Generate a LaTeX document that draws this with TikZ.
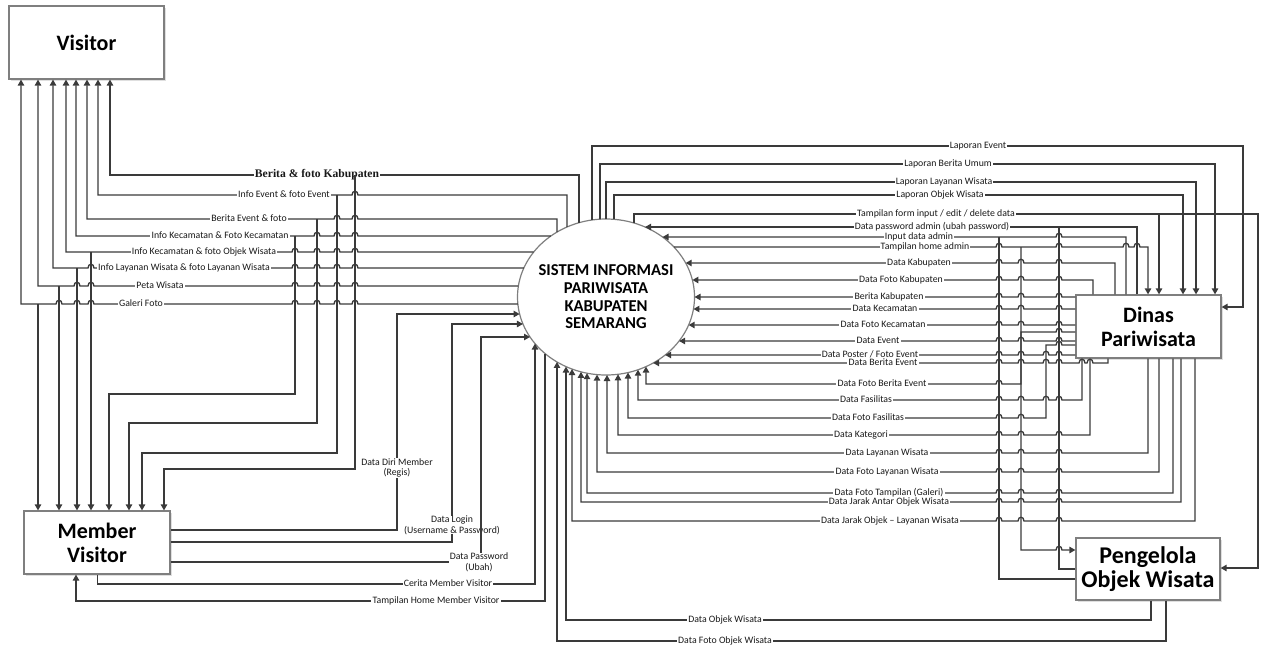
\documentclass[tikz,border=0pt]{standalone}
\usepackage{fontspec}
\setmainfont{Carlito}
\newfontfamily\judulfont{Liberation Serif}
\usepackage{tikz}
\usetikzlibrary{arrows.meta,shapes.geometric,shadows}
\definecolor{garis}{HTML}{3A3A3A}
\definecolor{tepi}{HTML}{7F7F7F}

\tikzset{
  garisalir/.style={draw=garis,line width=0.65pt},
  alir/.style={garisalir,-{Triangle[length=3pt,width=3.2pt]}},
  ket/.style={fill=white,inner xsep=0.6pt,inner ysep=0pt,text height=3.3pt,text depth=0.8pt,
    text=black!90,font=\fontsize{4.9}{5.4}\selectfont},
  ket2/.style={ket,align=center,text height=,text depth=},
  ketb/.style={ket,font={\judulfont\fontsize{5.8}{6}\selectfont\bfseries}},
  entitas/.style={draw=tepi,line width=0.6pt,fill=white,align=center,inner sep=0pt,
    font=\fontsize{11}{12}\selectfont\bfseries,
    drop shadow={shadow xshift=0.8pt,shadow yshift=-0.8pt,opacity=0.25}},
}
% lompatan kecil di atas garis vertikal
\newcommand\lompatkiri[2]{\foreach \jx in {#2}{ -- (\jx+3,#1) .. controls +(0,-5) and +(0,-5) .. (\jx-3,#1)}}
\newcommand\lompatkanan[2]{\foreach \jx in {#2}{ -- (\jx-3,#1) .. controls +(0,-5) and +(0,-5) .. (\jx+3,#1)}}

\begin{document}
\begin{tikzpicture}[x=0.5pt,y=-0.5pt,
  declare function={
    xl(\q)=606-88.5*sqrt(max(0,1-((\q-297)/78)*((\q-297)/78)));
    xr(\q)=606+88.5*sqrt(max(0,1-((\q-297)/78)*((\q-297)/78)));
    yt(\q)=297-78*sqrt(max(0,1-((\q-606)/88.5)*((\q-606)/88.5)));
    yb(\q)=297+78*sqrt(max(0,1-((\q-606)/88.5)*((\q-606)/88.5)));
  }]
  \useasboundingbox (0,0) rectangle (1262,649);

  % Entitas dan proses
  \node[entitas,minimum width=77.5pt,minimum height=36.5pt] (vis) at (86.5,42.5) {Visitor};
  \node[entitas,minimum width=73pt,minimum height=31.5pt] (mem) at (97,542.5) {Member\\Visitor};
  \node[entitas,minimum width=72.5pt,minimum height=31.5pt] (dinas) at (1148.5,326.5) {Dinas\\Pariwisata};
  \node[entitas,minimum width=72pt,minimum height=31pt,font=\fontsize{12}{12}\selectfont\bfseries]
    (pengelola) at (1148,569) {Pengelola\\Objek Wisata};
  \node[draw=tepi,line width=0.6pt,ellipse,fill=white,minimum width=88.5pt,minimum height=78pt,inner sep=0pt]
    (sys) at (606,297) {};
  \node[align=center,font=\fontsize{8.3}{8.8}\selectfont\bfseries] (systeks) at (sys.center)
    {SISTEM INFORMASI\\PARIWISATA\\KABUPATEN\\SEMARANG};

  % Ke Visitor dan Member Visitor
  \draw[alir] (579,{yt(579)}) -- (579,175) -- (317,175) node[ketb]{Berita \& foto Kabupaten} -- (110,175) -- (vis.south -| 110,0);
  \draw[alir] (355,175) -- (355,469) -- (164,469) -- (mem.north -| 164,0);
  \draw[alir] (567,{yt(567)}) -- (567,195) \lompatkiri{195}{355} -- (284,195) node[ket]{Info Event \& foto Event} -- (98,195) -- (vis.south -| 98,0);
  \draw[alir] (337,195) -- (337,453) -- (142,453) -- (mem.north -| 142,0);
  \draw[alir] (557,{yt(557)}) -- (557,219) \lompatkiri{219}{355,337} -- (249,219) node[ket]{Berita Event \& foto} -- (87,219) -- (vis.south -| 87,0);
  \draw[alir] (317,219) -- (317,423) -- (129,423) -- (mem.north -| 129,0);
  \draw[alir] ({xl(236)},236) \lompatkiri{236}{355,337,317} -- (220,236) node[ket]{Info Kecamatan \& Foto Kecamatan} -- (76,236) -- (vis.south -| 76,0);
  \draw[alir] (295,236) -- (295,394) -- (109,394) -- (mem.north -| 109,0);
  \draw[alir] ({xl(252)},252) \lompatkiri{252}{355,337,317,295} -- (204,252) node[ket]{Info Kecamatan \& foto Objek Wisata} -- (66,252) -- (vis.south -| 66,0);
  \draw[alir] (91,252) -- (mem.north -| 91,0);
  \draw[alir] ({xl(268)},268) \lompatkiri{268}{355,337,317,295} -- (184,268) node[ket]{Info Layanan Wisata \& foto Layanan Wisata} \lompatkiri{268}{91} -- (53,268) -- (vis.south -| 53,0);
  \draw[alir] (77,268) -- (mem.north -| 77,0);
  \draw[alir] ({xl(286)},286) \lompatkiri{286}{355,337,317,295} -- (160,286) node[ket]{Peta Wisata} \lompatkiri{286}{91,77} -- (38,286) -- (vis.south -| 38,0);
  \draw[alir] (59,286) -- (mem.north -| 59,0);
  \draw[alir] ({xl(304)},304) \lompatkiri{304}{355,337,317,295} -- (141,304) node[ket]{Galeri Foto} \lompatkiri{304}{91,77,59} -- (21,304) -- (vis.south -| 21,0);
  \draw[alir] (38,304) -- (mem.north -| 38,0);

  % Dari Member Visitor
  \draw[alir] (mem.east |- 0,530) -- (397,530) -- (397,468) node[ket2]{Data Diri Member\\(Regis)} -- (397,314) -- ({xl(314)},314);
  \draw[alir] (mem.east |- 0,542) -- (452,542) -- (452,525) node[ket2]{Data Login\\(Username \& Password)} -- (452,324) -- ({xl(324)},324);
  \draw[alir] (mem.east |- 0,562) -- (479,562) node[ket2]{Data Password\\(Ubah)} -- (481,562) -- (481,337) -- ({xl(337)},337);
  \draw[alir] (mem.south -| 97.5,0) -- (97.5,584) -- (448,584) node[ket]{Cerita Member Visitor} -- (535,584) -- (535,{yb(535)});
  \draw[alir] (545,{yb(545)}) -- (545,601) -- (436,601) node[ket]{Tampilan Home Member Visitor} -- (76,601) -- (mem.south -| 76,0);

  % Laporan ke Dinas Pariwisata
  \draw[alir] (592,{yt(592)}) -- (592,146) -- (978,146) node[ket]{Laporan Event} -- (1243,146) -- (1243,307) -- (dinas.east |- 0,307);
  \draw[alir] (600,{yt(600)}) -- (600,164) -- (948,164) node[ket]{Laporan Berita Umum} -- (1215,164) -- (dinas.north -| 1215,0);
  \draw[alir] (606,{yt(606)}) -- (606,182) -- (944,182) node[ket]{Laporan Layanan Wisata} -- (1196,182) -- (dinas.north -| 1196,0);
  \draw[alir] (614,{yt(614)}) -- (614,195) -- (940,195) node[ket]{Laporan Objek Wisata} -- (1183,195) -- (dinas.north -| 1183,0);
  \draw[alir] (634,{yt(634)}) -- (634,214) -- (936,214) node[ket]{Tampilan form input / edit / delete data} -- (1258,214) -- (1258,568) -- (pengelola.east |- 0,568);
  \draw[alir] (1159,214) -- (dinas.north -| 1159,0);

  % Admin
  \draw[alir] (dinas.north -| 1137,0) -- (1137,227) -- (932,227) node[ket]{Data password admin (ubah password)} -- ({xr(227)},227);
  \draw[garisalir] (pengelola.west |- 0,569) -- (1059,569) -- (1059,227);
  \draw[alir] (dinas.north -| 1126,0) -- (1126,237) \lompatkiri{237}{1059} -- (919,237) node[ket]{Input data admin} -- ({xr(237)},237);
  \draw[garisalir] (pengelola.west |- 0,579) -- (999,579) -- (999,237);
  \draw[alir] ({xr(247)},247) -- (925,247) node[ket]{Tampilan home admin} \lompatkanan{247}{999,1059,1126,1137} -- (1148,247) -- (dinas.north -| 1148,0);
  \draw[alir] (1021,247) -- (1021,550) \lompatkanan{550}{1059} -- (pengelola.west |- 0,550);

  % Data dari Dinas Pariwisata dan Pengelola
  \draw[alir] (dinas.north -| 1115,0) -- (1115,263) \lompatkiri{263}{1059,1021,999} -- (919,263) node[ket]{Data Kabupaten} -- ({xr(263)},263);
  \draw[alir] (dinas.north -| 1093,0) -- (1093,280) \lompatkiri{280}{1059,1021,999} -- (901,280) node[ket]{Data Foto Kabupaten} -- ({xr(280)},280);
  \draw[alir] (dinas.west |- 0,297) \lompatkiri{297}{1059,1021,999} -- (889,297) node[ket]{Berita Kabupaten} -- ({xr(297)},297);
  \draw[alir] (dinas.west |- 0,309) \lompatkiri{309}{1059,1021,999} -- (885,309) node[ket]{Data Kecamatan} -- ({xr(309)},309);
  \draw[alir] (dinas.west |- 0,325) \lompatkiri{325}{1059,1021,999} -- (883,325) node[ket]{Data Foto Kecamatan} -- ({xr(325)},325);
  \draw[alir] (dinas.west |- 0,341) \lompatkiri{341}{1059,1021,999} -- (878,341) node[ket]{Data Event} -- ({xr(341)},341);
  \draw[alir] (dinas.west |- 0,355) \lompatkiri{355}{1059,1046,1021,999} -- (870,355) node[ket]{Data Poster / Foto Event} -- ({xr(355)},355);
  \draw[alir] (dinas.south -| 1108,0) -- (1108,363) \lompatkiri{363}{1090,1082,1059,1046,1021,999} -- (883,363) node[ket]{Data Berita Event} -- ({xr(363)},363);
  \draw[alir] (dinas.west |- 0,332) \lompatkiri{332}{1059} -- (1021,332) -- (1021,384) \lompatkiri{384}{999} -- (882,384) node[ket]{Data Foto Berita Event} -- (646,384) -- (646,{yb(646)});
  \draw[alir] (dinas.south -| 1082,0) -- (1082,400) \lompatkiri{400}{1059,1046,1021,999} -- (866,400) node[ket]{Data Fasilitas} -- (638,400) -- (638,{yb(638)});
  \draw[alir] (dinas.west |- 0,345) \lompatkiri{345}{1059} -- (1046,345) -- (1046,418) \lompatkiri{418}{1021,999} -- (868,418) node[ket]{Data Foto Fasilitas} -- (628,418) -- (628,{yb(628)});
  \draw[alir] (dinas.south -| 1090,0) -- (1090,435) \lompatkiri{435}{1059,1021,999} -- (861,435) node[ket]{Data Kategori} -- (618,435) -- (618,{yb(618)});
  \draw[alir] (dinas.south -| 1148,0) -- (1148,453) \lompatkiri{453}{1059,1021,999} -- (887,453) node[ket]{Data Layanan Wisata} -- (607,453) -- (607,{yb(607)});
  \draw[alir] (dinas.south -| 1159,0) -- (1159,472) \lompatkiri{472}{1059,1021,999} -- (887,472) node[ket]{Data Foto Layanan Wisata} -- (597,472) -- (597,{yb(597)});
  \draw[alir] (dinas.south -| 1173,0) -- (1173,493) \lompatkiri{493}{1059,1021,999} -- (889,493) node[ket]{Data Foto Tampilan (Galeri)} -- (587,493) -- (587,{yb(587)});
  \draw[alir] (dinas.south -| 1181,0) -- (1181,502) \lompatkiri{502}{1059,1021,999} -- (889,502) node[ket]{Data Jarak Antar Objek Wisata} -- (581,502) -- (581,{yb(581)});
  \draw[alir] (dinas.south -| 1195,0) -- (1195,521) \lompatkiri{521}{1059,1021,999} -- (890,521) node[ket]{Data Jarak Objek -- Layanan Wisata} -- (572,521) -- (572,{yb(572)});
  \draw[alir] (pengelola.south -| 1151,0) -- (1151,620) -- (725,620) node[ket]{Data Objek Wisata} -- (566,620) -- (566,{yb(566)});
  \draw[alir] (pengelola.south -| 1166,0) -- (1166,641) -- (725,641) node[ket]{Data Foto Objek Wisata} -- (557,641) -- (557,{yb(557)});
\end{tikzpicture}
\end{document}
